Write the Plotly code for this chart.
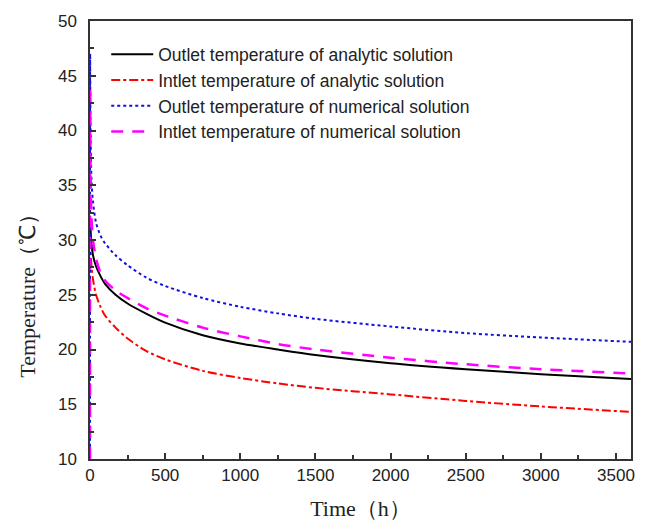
import plotly.graph_objects as go

# Time points (h)
t_analytic = [2, 10, 20, 40, 70, 100, 170, 250, 370, 500, 750, 1000, 1250, 1500, 2000, 2500, 3000, 3600]
outlet_analytic = [31.5, 29.6, 28.6, 27.6, 26.7, 26.0, 25.0, 24.2, 23.3, 22.45, 21.3, 20.55, 20.0, 19.5, 18.75, 18.2, 17.75, 17.3]
inlet_analytic = [30.0, 27.6, 26.4, 25.0, 23.9, 23.1, 22.0, 21.0, 19.9, 19.1, 18.05, 17.4, 16.9, 16.5, 15.9, 15.3, 14.8, 14.3]

t_numerical = [0, 1, 3, 10, 20, 40, 70, 100, 170, 250, 370, 500, 750, 1000, 1250, 1500, 2000, 2500, 3000, 3600]
outlet_numerical = [10.0, 47.0, 41.0, 35.5, 33.5, 31.6, 30.4, 29.7, 28.6, 27.7, 26.6, 25.8, 24.7, 23.9, 23.3, 22.8, 22.1, 21.5, 21.1, 20.7]
inlet_numerical = [10.0, 44.0, 37.0, 32.0, 30.0, 28.3, 27.0, 26.3, 25.4, 24.7, 23.8, 23.1, 22.0, 21.2, 20.5, 20.0, 19.25, 18.65, 18.2, 17.8]

names = [
    "Outlet temperature of analytic solution",
    "Intlet temperature of analytic solution",
    "Outlet temperature of numerical solution",
    "Intlet temperature of numerical solution",
]

x_ticks = [0, 500, 1000, 1500, 2000, 2500, 3000, 3500]
y_ticks = [10, 15, 20, 25, 30, 35, 40, 45, 50]

fig = go.Figure()
fig.add_trace(go.Scatter(x=t_analytic, y=outlet_analytic, mode="lines", name=names[0],
                         line=dict(color="black", width=2, shape="spline", smoothing=0.8)))
fig.add_trace(go.Scatter(x=t_analytic, y=inlet_analytic, mode="lines", name=names[1],
                         line=dict(color="#ff0000", width=2, dash="dashdot", shape="spline", smoothing=0.8)))
fig.add_trace(go.Scatter(x=t_numerical, y=outlet_numerical, mode="lines", name=names[2],
                         line=dict(color="#1010e0", width=2, dash="dot", shape="spline", smoothing=0.8)))
fig.add_trace(go.Scatter(x=t_numerical, y=inlet_numerical, mode="lines", name=names[3],
                         line=dict(color="#ff00ff", width=2.5, dash="12px,9px", shape="spline", smoothing=0.8)))

axis_common = dict(
    showline=True, linecolor="#333333", linewidth=1.5, mirror=True,
    ticks="inside", ticklen=6, tickwidth=1.5, tickcolor="#333333",
    showgrid=False, zeroline=False, automargin=False,
    tickfont=dict(family="Liberation Sans, Arial", size=17, color="#222222"),
)
title_font = dict(family="Liberation Serif, Times New Roman", size=22, color="#222222")

fig.update_layout(
    width=639, height=513,
    margin=dict(l=82, r=16, t=13, b=62),
    plot_bgcolor="white", paper_bgcolor="white",
    xaxis=dict(range=[0, 3600], tickvals=x_ticks,
               minor=dict(dtick=250, ticks="inside", ticklen=4, tickcolor="#333333", tickwidth=1.5),
               title=dict(text="Time（h）", font=title_font, standoff=18),
               **axis_common),
    yaxis=dict(range=[10, 50], tickvals=y_ticks, ticklabelstandoff=8,
               minor=dict(dtick=2.5, ticks="inside", ticklen=4, tickcolor="#333333", tickwidth=1.5),
               **axis_common),
    legend=dict(x=0.03, y=0.965, xanchor="left", yanchor="top",
                bgcolor="rgba(0,0,0,0)", borderwidth=0, itemwidth=42,
                font=dict(family="Liberation Sans, Arial", size=17.5, color="#222222"),
                tracegroupgap=0),
    showlegend=True,
    annotations=[dict(text="Temperature（℃）", textangle=-90, xref="paper", yref="paper",
                      x=-0.115, y=0.386, xanchor="center", yanchor="middle",
                      showarrow=False, font=title_font)],
)

fig.write_html("out.html")
